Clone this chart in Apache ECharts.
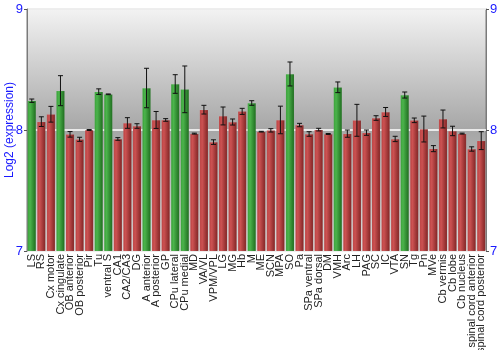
<!DOCTYPE html>
<html>
<head>
<meta charset="utf-8">
<script src="https://cdn.jsdelivr.net/npm/echarts@6/dist/echarts.min.js"></script>
<style>
  html, body { margin: 0; padding: 0; background: #ffffff; }
  #chart { width: 500px; height: 350px; }
</style>
</head>
<body>
<div id="chart"></div>
<script>
// Brain regions along the x axis
const regions = [
  'LS', 'RS', 'Cx motor', 'Cx cingulate', 'OB anterior', 'OB posterior', 'Pir', 'Tu',
  'ventral S', 'CA1', 'CA2/CA3', 'DG', 'A anterior', 'A posterior', 'GP', 'CPu lateral',
  'CPu medial', 'MD', 'VA/VL', 'VPM/VPL', 'LG', 'MG', 'Hb', 'M', 'ME', 'SCN', 'MPA', 'SO',
  'Pa', 'SPa ventral', 'SPa dorsal', 'DM', 'VMH', 'Arc', 'LH', 'PAG', 'SC', 'IC', 'VTA',
  'SN', 'Tg', 'Pn', 'MVe', 'Cb vermis', 'Cb lobe', 'Cb nucleus',
  'spinal cord anterior', 'spinal cord posterior'
];

// Mean log2 expression per region
const expression = [
  8.242, 8.069, 8.130, 8.325, 7.964, 7.923, 8.000, 8.317,
  8.295, 7.926, 8.058, 8.033, 8.347, 8.083, 8.083, 8.380,
  8.336, 7.970, 8.168, 7.900, 8.116, 8.066, 8.154, 8.223, 7.986, 7.997, 8.083, 8.463,
  8.041, 7.967, 8.003, 7.967, 8.353, 7.970, 8.080, 7.978, 8.099, 8.149, 7.926,
  8.289, 8.080, 8.008, 7.846, 8.091, 7.992, 7.970,
  7.843, 7.912
];

// Half-length of the error bar for each region
const errors = [
  0.014, 0.040, 0.065, 0.124, 0.023, 0.017, 0.004, 0.023,
  0.003, 0.011, 0.044, 0.019, 0.163, 0.070, 0.011, 0.077,
  0.193, 0.004, 0.036, 0.019, 0.074, 0.025, 0.025, 0.019, 0.003, 0.014, 0.114, 0.099,
  0.014, 0.019, 0.011, 0.004, 0.044, 0.030, 0.132, 0.022, 0.019, 0.037, 0.022,
  0.025, 0.019, 0.107, 0.025, 0.074, 0.039, 0.004,
  0.018, 0.074
];

// Regions drawn in green (highlighted group); all others are red
const highlighted = ['LS', 'Cx cingulate', 'Tu', 'ventral S', 'A anterior', 'CPu lateral',
  'CPu medial', 'M', 'SO', 'VMH', 'SN'];

// Y axis range and ticks
const yMin = 7, yMax = 9, yStep = 1;
const yTitle = 'Log2 (expression)';

function barGradient(light, mid, dark) {
  return new echarts.graphic.LinearGradient(0, 0, 1, 0, [
    { offset: 0, color: mid },
    { offset: 0.3, color: light },
    { offset: 1, color: dark }
  ]);
}
const redFill = barGradient('#cc5252', '#b94040', '#7e2323');
const greenFill = barGradient('#4cb44c', '#359d35', '#1d6a1d');

const barData = regions.map((name, i) => ({
  value: expression[i],
  itemStyle: { color: highlighted.includes(name) ? greenFill : redFill }
}));
const errData = regions.map((name, i) => [i, expression[i] - errors[i], expression[i] + errors[i]]);

const blue = '#1a1aff';
const font = 'Liberation Sans, Arial, sans-serif';

const chart = echarts.init(document.getElementById('chart'), null, { renderer: 'canvas' });
chart.setOption({
  animation: false,
  grid: {
    left: 27, right: 14, top: 9, bottom: 99,
    containLabel: false,
    outerBoundsMode: 'none',
    show: true,
    borderColor: '#7a7a7a',
    borderWidth: 1,
    backgroundColor: new echarts.graphic.LinearGradient(0, 0, 0, 1, [
      { offset: 0, color: '#f3f3f3' },
      { offset: 0.5, color: '#a6a6a6' },
      { offset: 1, color: '#d8d8d8' }
    ])
  },
  xAxis: {
    type: 'category',
    data: regions,
    axisLine: { show: false },
    axisTick: { show: false },
    axisLabel: {
      interval: 0,
      rotate: 90,
      margin: 3,
      color: '#222222',
      fontSize: 11,
      fontFamily: font
    }
  },
  yAxis: [
    {
      type: 'value',
      min: yMin, max: yMax, interval: yStep,
      name: yTitle,
      nameLocation: 'middle',
      nameGap: 11,
      nameMoveOverlap: false,
      nameTextStyle: { color: blue, fontSize: 12, fontFamily: font },
      axisLine: { show: true, lineStyle: { color: '#7a7a7a' } },
      axisTick: { show: true, length: 3, lineStyle: { color: '#555555' } },
      axisLabel: { color: blue, fontSize: 13, fontFamily: font, margin: 4 },
      splitLine: { show: true, lineStyle: { color: '#ffffff', width: 1.5 } }
    },
    {
      type: 'value',
      position: 'right',
      min: yMin, max: yMax, interval: yStep,
      axisLine: { show: true, lineStyle: { color: '#7a7a7a' } },
      axisTick: { show: true, length: 3, lineStyle: { color: '#555555' } },
      axisLabel: { color: blue, fontSize: 13, fontFamily: font, margin: 4 },
      splitLine: { show: false }
    }
  ],
  series: [
    {
      type: 'bar',
      data: barData,
      barCategoryGap: '10%',
      itemStyle: { borderColor: 'rgba(255,255,255,0.15)', borderWidth: 0.5 }
    },
    {
      type: 'custom',
      data: errData,
      z: 5,
      renderItem: function (params, api) {
        const x = api.value(0);
        const lo = api.coord([x, api.value(1)]);
        const hi = api.coord([x, api.value(2)]);
        const cap = 2.5;
        const style = { stroke: '#111111', lineWidth: 1 };
        return {
          type: 'group',
          children: [
            { type: 'line', shape: { x1: lo[0], y1: lo[1], x2: hi[0], y2: hi[1] }, style: style },
            { type: 'line', shape: { x1: lo[0] - cap, y1: lo[1], x2: lo[0] + cap, y2: lo[1] }, style: style },
            { type: 'line', shape: { x1: hi[0] - cap, y1: hi[1], x2: hi[0] + cap, y2: hi[1] }, style: style }
          ]
        };
      }
    }
  ]
});
</script>
</body>
</html>
